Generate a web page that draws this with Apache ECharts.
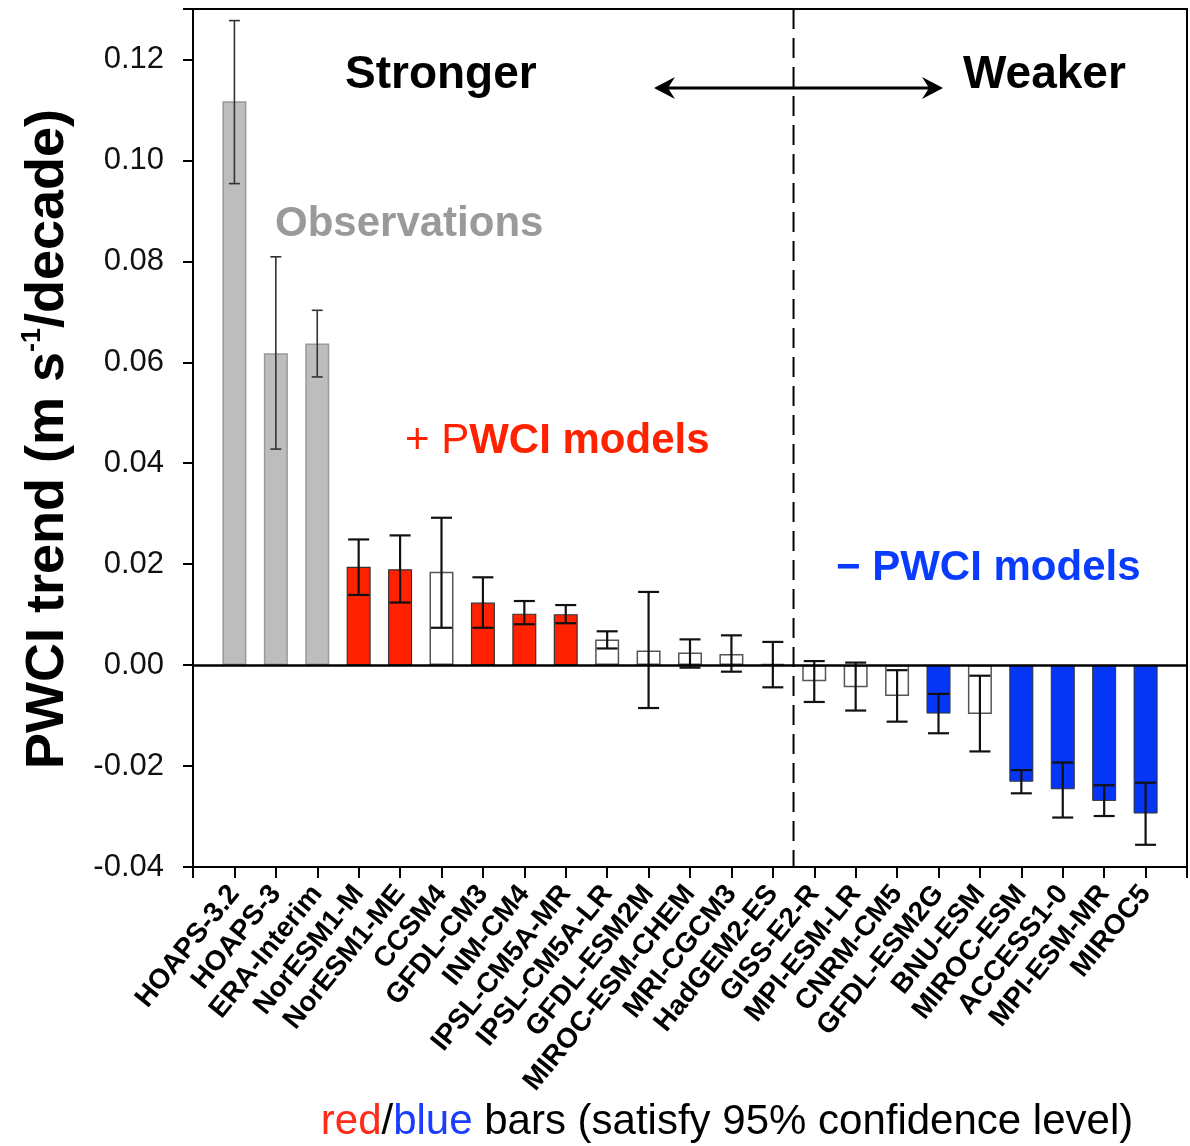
<!DOCTYPE html>
<html>
<head>
<meta charset="utf-8">
<script src="https://cdn.jsdelivr.net/npm/echarts@6/dist/echarts.min.js"></script>
<style>
  html, body { margin: 0; padding: 0; background: #fff; }
  #chart { width: 1190px; height: 1146px; }
</style>
</head>
<body>
<div id="chart"></div>
<script>
// models / reanalyses, in plotted order
const categories = ['HOAPS-3.2', 'HOAPS-3', 'ERA-Interim', 'NorESM1-M', 'NorESM1-ME', 'CCSM4',
  'GFDL-CM3', 'INM-CM4', 'IPSL-CM5A-MR', 'IPSL-CM5A-LR', 'GFDL-ESM2M', 'MIROC-ESM-CHEM',
  'MRI-CGCM3', 'HadGEM2-ES', 'GISS-E2-R', 'MPI-ESM-LR', 'CNRM-CM5', 'GFDL-ESM2G', 'BNU-ESM',
  'MIROC-ESM', 'ACCESS1-0', 'MPI-ESM-MR', 'MIROC5'];
// PWCI trend (m s-1 / decade)
const trend = [0.1117, 0.0618, 0.0637, 0.0195, 0.0190, 0.0185, 0.0124, 0.0102, 0.0101, 0.0051,
  0.0029, 0.0025, 0.0022, 0.0002, -0.0032, -0.0044, -0.0061, -0.0096, -0.0097, -0.0231,
  -0.0246, -0.0269, -0.0294];
const errHigh = [0.1277, 0.0809, 0.0703, 0.0249, 0.0257, 0.0292, 0.0174, 0.0127, 0.0119, 0.0067,
  0.0145, 0.0051, 0.0059, 0.0046, 0.0008, 0.0005, -0.0010, -0.0057, -0.0021, -0.0208,
  -0.0193, -0.0238, -0.0233];
const errLow = [0.0954, 0.0428, 0.0571, 0.0139, 0.0124, 0.0074, 0.0074, 0.0081, 0.0083, 0.0033,
  -0.0085, -0.0005, -0.0013, -0.0044, -0.0073, -0.0090, -0.0112, -0.0135, -0.0171, -0.0254,
  -0.0302, -0.0299, -0.0356];
// obs = observations, pos/neg = significant, none = not significant
const kind = ['obs', 'obs', 'obs', 'pos', 'pos', 'none', 'pos', 'pos', 'pos', 'none', 'none', 'none',
  'none', 'none', 'none', 'none', 'none', 'neg', 'none', 'neg', 'neg', 'neg', 'neg'];
const yTicks = [-0.04, -0.02, 0.00, 0.02, 0.04, 0.06, 0.08, 0.10, 0.12];
// the dashed divider sits between these two models
const splitAfter = 'HadGEM2-ES';

const FONT = "'Liberation Sans', Arial, sans-serif";
const styles = {
  obs: { color: '#bdbdbd', borderColor: '#999999', borderWidth: 1.5 },
  pos: { color: '#ff2200', borderColor: '#333333', borderWidth: 1.2 },
  neg: { color: '#0536f5', borderColor: '#333333', borderWidth: 1 },
  none: { color: '#ffffff', borderColor: '#555555', borderWidth: 1.5 }
};

// empty slot at both ends so the bars sit one step in from the frame
const axisData = [''].concat(categories, ['']);
const barData = ['-'].concat(categories.map((c, i) => ({
  value: trend[i],
  itemStyle: styles[kind[i]]
})), ['-']);
const errData = categories.map((c, i) => [i + 1, errLow[i], errHigh[i]]);

const chart = echarts.init(document.getElementById('chart'));

const option = {
  animation: false,
  backgroundColor: '#fff',
  grid: {
    left: 193, right: 3, top: 9, bottom: 279,
    show: true, borderColor: '#000', borderWidth: 2
  },
  xAxis: {
    type: 'category',
    data: axisData,
    boundaryGap: false,
    axisLine: { onZero: false, lineStyle: { color: '#000', width: 2 } },
    axisTick: { show: true, interval: 0, length: 11, lineStyle: { color: '#000', width: 2 } },
    axisLabel: {
      interval: 0, rotate: 51, margin: 22,
      color: '#000', fontFamily: FONT, fontWeight: 'bold', fontSize: 28
    },
    splitLine: { show: false }
  },
  yAxis: {
    type: 'value',
    min: -0.04, max: 0.13, interval: 0.02,
    axisLine: { show: true, lineStyle: { color: '#000', width: 2 } },
    axisTick: { show: true, length: 10, lineStyle: { color: '#000', width: 2 } },
    axisLabel: {
      margin: 29, color: '#111', fontFamily: FONT, fontSize: 31,
      formatter: function (v) {
        const ok = yTicks.some(t => Math.abs(t - v) < 1e-9);
        return ok ? v.toFixed(2) : '';
      }
    },
    splitLine: { show: false }
  },
  series: [
    {
      type: 'bar',
      data: barData,
      barWidth: 24,
      z: 2,
      markLine: {
        silent: true,
        symbol: 'none',
        label: { show: false },
        z: 5,
        data: [
          { yAxis: 0, lineStyle: { color: '#000', width: 2.5, type: 'solid' } }
        ]
      }
    },
    {
      type: 'custom',
      z: 4,
      data: errData,
      renderItem: function (params, api) {
        const idx = api.value(0);
        const lo = api.coord([idx, api.value(1)]);
        const hi = api.coord([idx, api.value(2)]);
        const isObs = kind[idx - 1] === 'obs';
        const half = isObs ? 5.5 : 10.5;
        const style = { stroke: isObs ? '#333' : '#111', lineWidth: isObs ? 1.6 : 2.2 };
        return {
          type: 'group',
          children: [
            { type: 'line', shape: { x1: hi[0], y1: hi[1], x2: lo[0], y2: lo[1] }, style: style },
            { type: 'line', shape: { x1: hi[0] - half, y1: hi[1], x2: hi[0] + half, y2: hi[1] }, style: style },
            { type: 'line', shape: { x1: lo[0] - half, y1: lo[1], x2: lo[0] + half, y2: lo[1] }, style: style }
          ]
        };
      }
    }
  ],
  graphic: [
    {
      type: 'text', left: 345, top: 52, z: 10,
      style: { text: 'Stronger', font: 'bold 46px ' + FONT, fill: '#000' }
    },
    {
      type: 'text', left: 963, top: 52, z: 10,
      style: { text: 'Weaker', font: 'bold 46px ' + FONT, fill: '#000' }
    },
    {
      type: 'group', z: 10,
      children: [
        { type: 'line', shape: { x1: 662, y1: 88, x2: 935, y2: 88 }, style: { stroke: '#000', lineWidth: 3 } },
        { type: 'polygon', shape: { points: [[654, 88], [675, 77], [668, 88], [675, 99]] }, style: { fill: '#000' } },
        { type: 'polygon', shape: { points: [[943, 88], [922, 77], [929, 88], [922, 99]] }, style: { fill: '#000' } }
      ]
    },
    {
      type: 'text', left: 275, top: 203, z: 10,
      style: { text: 'Observations', font: 'bold 42px ' + FONT, fill: '#9a9a9a' }
    },
    {
      type: 'text', left: 405, top: 420, z: 10,
      style: {
        text: '{a|+ P}{b|WCI models}',
        rich: {
          a: { fontFamily: FONT, fontSize: 42, fill: '#ff2200' },
          b: { fontFamily: FONT, fontSize: 42, fontWeight: 'bold', fill: '#ff2200' }
        }
      }
    },
    {
      type: 'text', left: 836, top: 547, z: 10,
      style: { text: '\u2212 PWCI models', font: 'bold 42px ' + FONT, fill: '#0a3cff' }
    },
    {
      type: 'text', x: 48, y: 439, rotation: Math.PI / 2, z: 10,
      style: {
        text: '{a|PWCI trend (m s}{s|-1}{a|/decade)}',
        align: 'center', verticalAlign: 'middle',
        rich: {
          a: { fontFamily: FONT, fontSize: 54, fontWeight: 'bold', fill: '#000', lineHeight: 58 },
          s: { fontFamily: FONT, fontSize: 27, fontWeight: 'bold', fill: '#000', verticalAlign: 'top', lineHeight: 58, padding: [0, 0, 28, 0] }
        }
      }
    },
    {
      type: 'text', x: 727, y: 1122, z: 10,
      style: {
        text: '{r|red}{k|/}{b|blue}{k| bars (satisfy 95% confidence level)}',
        align: 'center', verticalAlign: 'middle',
        rich: {
          r: { fontFamily: FONT, fontSize: 42, fill: '#ff2a1a' },
          b: { fontFamily: FONT, fontSize: 42, fill: '#1a3cff' },
          k: { fontFamily: FONT, fontSize: 42, fill: '#000' }
        }
      }
    }
  ]
};

chart.setOption(option);

// dashed divider halfway between two neighbouring categories
const k = axisData.indexOf(splitAfter);
const pa = chart.convertToPixel({ gridIndex: 0 }, [k, 0.13]);
const pb = chart.convertToPixel({ gridIndex: 0 }, [k + 1, -0.04]);
const xMid = (pa[0] + pb[0]) / 2;
chart.setOption({
  graphic: option.graphic.concat([{
    type: 'line', z: 5, silent: true,
    shape: { x1: xMid, y1: pa[1], x2: xMid, y2: pb[1] },
    style: { stroke: '#000', lineWidth: 2, lineDash: [20, 9] }
  }])
});
</script>
</body>
</html>
